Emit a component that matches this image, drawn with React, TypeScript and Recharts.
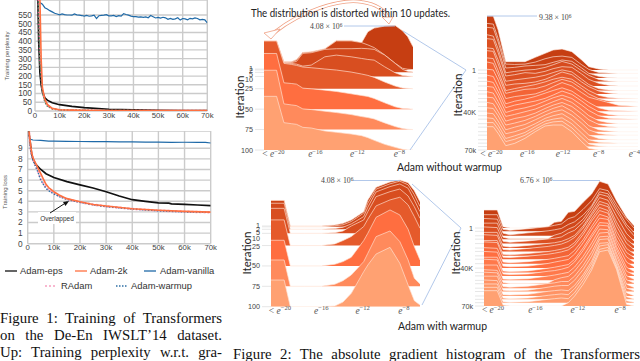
import React from "react";
import { AreaChart, Area, LineChart, Line, XAxis, YAxis, CartesianGrid, Legend } from "recharts";

// ---------- Line charts (x in thousands of updates) ----------
const kTicks = [0, 10, 20, 30, 40, 50, 60, 70];
const perplexTicks = [0, 50, 100, 150, 200, 250, 300, 350, 400, 450, 500, 550];
const lossTicks = [0, 1, 2, 3, 4, 5, 6, 7, 8, 9];

const perpEpsX = [1, 1.5, 2, 2.5, 3, 4, 5, 7, 10, 15, 20, 30, 40, 50, 60, 70];
const perpEpsY = [760, 400, 220, 150, 112, 76, 62, 47, 36, 26, 19, 10, 6, 4, 3, 2];
const perp2kX = [1.5, 2, 2.5, 3, 4, 5, 7, 10, 15, 20, 30, 50, 70];
const perp2kY = [800, 640, 300, 135, 66, 38, 15, 7, 5, 4, 3, 2, 2];
const perpRadamX = [1, 1.5, 2, 3, 4, 5, 7, 10, 15, 20, 30, 50, 70];
const perpRadamY = [800, 560, 300, 110, 55, 30, 13, 6, 5, 4, 3, 2, 2];
const perpWarmX = [1, 1.4, 2, 3, 4, 5, 7, 10, 15, 20, 30, 50, 70];
const perpWarmY = [800, 600, 280, 105, 52, 28, 12, 6, 5, 4, 3, 2, 2];
const perpVanX = [2, 3, 4, 5, 6, 7, 8, 9, 10, 11, 12, 13, 14, 15, 16, 17, 18, 19, 20, 21, 22, 23, 24, 25, 26, 27, 28, 29, 30, 31, 32, 33, 34, 35, 36, 37, 38, 39, 40, 41, 42, 43, 44, 45, 46, 47, 48, 49, 50, 51, 52, 53, 54, 55, 56, 57, 58, 59, 60, 61, 62, 63, 64, 65, 66, 67, 68, 69, 70];
const perpVanY = [622, 612, 592, 585, 575, 568, 560, 556, 551, 556, 552, 550, 550, 549, 556, 551, 549, 547, 544, 548, 543, 545, 549, 530, 546, 548, 549, 552, 545, 545, 548, 541, 546, 544, 558, 553, 549, 544, 541, 541, 538, 539, 537, 539, 534, 547, 540, 533, 536, 532, 537, 534, 525, 531, 525, 528, 534, 521, 530, 528, 523, 531, 528, 533, 530, 522, 525, 522, 505];

const lossEpsX = [0.4, 1, 1.5, 2, 3, 5, 7, 10, 15, 20, 25, 30, 35, 40, 45, 50, 54, 55, 60, 65, 70];
const lossEpsY = [10.6, 9.5, 8.5, 8, 7.5, 7, 6.6, 6.25, 5.85, 5.55, 5.25, 4.9, 4.5, 4.15, 4, 3.85, 3.82, 3.75, 3.7, 3.65, 3.6];
const loss2kX = [0.5, 1, 1.5, 2, 3, 4, 5, 6, 7, 8, 10, 12, 15, 20, 25, 30, 40, 50, 60, 70];
const loss2kY = [10.6, 9.5, 8.6, 8.1, 7.6, 7.1, 6.6, 6.1, 5.6, 5.3, 4.9, 4.6, 4.25, 3.95, 3.7, 3.55, 3.3, 3.15, 3.05, 2.98];
const lossRadamX = [0.5, 1, 1.5, 2, 3, 4, 5, 6, 7, 8, 10, 12, 15, 20, 25, 30, 40, 50, 60, 70];
const lossRadamY = [10.5, 9.2, 8.4, 8, 7.4, 6.8, 6.1, 5.7, 5.3, 5.1, 4.75, 4.5, 4.2, 3.92, 3.68, 3.52, 3.28, 3.12, 3.02, 2.96];
const lossWarmX = [0.5, 1, 1.5, 2, 3, 4, 5, 6, 7, 8, 10, 12, 15, 20, 25, 30, 40, 50, 60, 70];
const lossWarmY = [10.5, 9.1, 8.3, 7.9, 7.3, 6.7, 6, 5.6, 5.2, 5, 4.7, 4.45, 4.18, 3.9, 3.67, 3.5, 3.27, 3.1, 3, 2.95];
const lossVanX = [1, 2, 5, 8, 10, 15, 20, 25, 30, 35, 40, 45, 50, 55, 60, 65, 68, 70];
const lossVanY = [9.85, 9.78, 9.74, 9.68, 9.67, 9.65, 9.64, 9.63, 9.62, 9.6, 9.6, 9.58, 9.58, 9.56, 9.57, 9.56, 9.55, 9.5];

const nameEps = "Adam-eps";
const name2k = "Adam-2k";
const nameVan = "Adam-vanilla";
const nameRadam = "RAdam";
const nameWarm = "Adam-warmup";

// ---------- Ridge panels: exponent bins, row iterations, histogram heights ----------
const p1Bins = [-20.9, -19.7, -19, -18.3, -17.8, -17.2, -16.4, -15.1, -14, -12.6, -11.6, -11, -10.4, -9.4, -8.4, -7.7, -7.2, -6.7];
const p1Iters = [1, 2, 5, 10, 25, 50, 75, 100];
const p1Rows = [
  [84, 84, 22, 22, 29, 50, 52, 61, 86, 86, 79, 112, 123, 129, 131, 115, 97, 67],
  [87, 87, 24, 23, 30, 52, 54, 63, 87, 87, 82, 75, 67, 45, 20, 5, 2, 1],
  [94, 94, 30, 29, 33, 57, 59, 69, 71, 71, 72, 71, 69, 52, 27, 9, 3, 1],
  [106, 106, 41, 39, 37, 31, 34, 59, 64, 59, 54, 51, 49, 29, 11, 3, 1, 0],
  [143, 143, 76, 73, 70, 65, 63, 59, 56, 50, 44, 40, 34, 20, 8, 2, 1, 0],
  [167, 167, 79, 77, 75, 63, 61, 57, 53, 46, 41, 38, 32, 19, 7, 2, 1, 0],
  [178, 178, 77, 74, 72, 62, 60, 55, 51, 45, 39, 36, 32, 20, 9, 3, 1, 0],
  [161, 161, 82, 79, 77, 68, 66, 57, 53, 48, 43, 37, 29, 17, 8, 2, 0, 0],
];

const p2Bins = [-20.5, -19.8, -19.25, -18.4, -17.4, -16.25, -15.1, -14, -13.1, -12.1, -11, -9.9, -9.1, -8, -6.9, -5.8, -3.6];
const p2Iters = [1, 3000, 7000, 10000, 14000, 18000, 21000, 25000, 28000, 32000, 36000, 40000, 43000, 47000, 50000, 54000, 57000, 61000, 64000, 67000, 70000];
const p2Rows = [
  [162, 162, 120, 25, 25, 25, 38, 50, 60, 63, 55, 30, 10, 3, 0, 0, 0],
  [150, 148, 105, 28, 27, 28, 34, 44, 50, 52, 48, 26, 12, 3, 1, 0, 0],
  [152, 150, 108, 30, 32, 36, 38, 40, 47, 54, 50, 30, 14, 5, 1, 0, 0],
  [140, 136, 98, 26, 30, 34, 36, 42, 50, 60, 52, 32, 18, 6, 1, 0, 0],
  [142, 140, 100, 30, 34, 40, 38, 44, 52, 58, 56, 36, 20, 8, 2, 0, 0],
  [128, 126, 92, 28, 32, 36, 40, 46, 54, 62, 56, 34, 18, 6, 2, 0, 0],
  [130, 128, 90, 26, 30, 32, 36, 44, 54, 66, 58, 36, 22, 9, 3, 0, 0],
  [122, 120, 84, 24, 30, 36, 42, 50, 58, 64, 58, 38, 24, 10, 3, 1, 0],
  [120, 116, 82, 26, 32, 38, 40, 48, 58, 68, 60, 40, 24, 10, 3, 1, 0],
  [112, 110, 80, 24, 30, 34, 38, 48, 60, 72, 62, 42, 28, 20, 12, 4, 0],
  [108, 104, 74, 22, 30, 36, 44, 54, 62, 70, 60, 40, 26, 10, 3, 1, 0],
  [104, 100, 72, 24, 32, 38, 44, 52, 62, 74, 64, 44, 28, 12, 4, 1, 0],
  [98, 96, 70, 20, 28, 34, 42, 54, 64, 72, 62, 42, 26, 10, 3, 1, 0],
  [96, 92, 66, 22, 28, 36, 44, 56, 66, 76, 64, 42, 24, 9, 3, 0, 0],
  [90, 88, 64, 18, 26, 32, 42, 56, 66, 74, 62, 40, 22, 8, 2, 0, 0],
  [88, 84, 60, 20, 26, 34, 46, 60, 70, 78, 62, 38, 18, 6, 2, 0, 0],
  [82, 80, 58, 16, 24, 32, 46, 60, 70, 76, 60, 36, 16, 5, 1, 0, 0],
  [80, 78, 56, 18, 24, 34, 48, 64, 72, 78, 60, 34, 14, 4, 1, 0, 0],
  [76, 74, 54, 14, 22, 32, 50, 66, 72, 76, 58, 30, 10, 3, 1, 0, 0],
  [72, 72, 52, 15, 22, 34, 52, 68, 74, 76, 56, 28, 8, 2, 0, 0, 0],
  [70, 70, 50, 13, 20, 35, 55, 72, 75, 75, 55, 25, 5, 0, 0, 0, 0],
];

const p3Bins = [-20.87, -19.6, -19, -17.6, -16, -14.7, -13.9, -13.1, -11.9, -11.5, -10.7, -9.35, -8.4, -7.6, -7, -6.45];
const p3Iters = [1, 2, 5, 10, 25, 50, 75, 100];
const p3Rows = [
  [76, 76, 0, 0, 0, 3, 8, 18, 43, 78, 116, 132, 138, 130, 106, 73],
  [79, 79, 0, 0, 0, 3, 6, 16, 41, 71, 113, 129, 137, 126, 96, 61],
  [78, 78, 0, 0, 0, 2, 6, 16, 38, 66, 112, 128, 136, 123, 88, 53],
  [75, 75, 0, 0, 0, 2, 7, 22, 40, 65, 110, 125, 133, 112, 80, 45],
  [77, 77, 0, 0, 0, 5, 15, 27, 57, 79, 119, 137, 145, 122, 87, 52],
  [77, 77, 0, 0, 0, 5, 13, 26, 76, 98, 146, 168, 153, 110, 58, 18],
  [79, 79, 0, 0, 0, 6, 17, 34, 74, 99, 149, 166, 134, 79, 24, 7],
  [80, 80, 0, 0, 0, 2, 14, 40, 105, 125, 158, 178, 130, 65, 18, 5],
];

const p4Bins = [-20.85, -19.6, -19.05, -18.4, -16.7, -14.8, -14.2, -13.55, -12.9, -12.3, -11.5, -10.7, -9.95, -9.15, -8.35, -7.4, -6.7];
const p4Iters = [1, 3000, 7000, 10000, 14000, 18000, 21000, 25000, 28000, 32000, 36000, 40000, 43000, 47000, 50000, 54000, 57000, 61000, 64000, 67000, 70000];
const p4Rows = [
  [54, 54, 4, 0, 0, 4, 17, 20, 47, 50, 77, 102, 140, 132, 82, 32, 7],
  [50, 50, 6, 3, 8, 14, 18, 22, 38, 44, 66, 92, 128, 122, 80, 36, 10],
  [52, 50, 8, 3, 9, 15, 18, 22, 34, 42, 62, 90, 132, 126, 84, 34, 10],
  [48, 48, 6, 1, 1, 2, 12, 18, 30, 38, 60, 96, 135, 128, 84, 36, 10],
  [50, 48, 7, 4, 8, 14, 16, 20, 32, 40, 64, 100, 138, 130, 82, 30, 8],
  [47, 47, 6, 3, 8, 14, 16, 20, 28, 38, 66, 104, 140, 132, 78, 26, 8],
  [50, 48, 6, 4, 9, 15, 18, 22, 30, 42, 70, 108, 142, 134, 76, 24, 6],
  [46, 46, 5, 3, 7, 13, 16, 20, 26, 40, 72, 112, 145, 136, 74, 22, 6],
  [52, 50, 6, 5, 9, 15, 18, 22, 28, 42, 74, 114, 146, 138, 72, 20, 5],
  [48, 46, 5, 3, 6, 13, 16, 20, 24, 40, 72, 112, 148, 140, 72, 20, 5],
  [50, 48, 6, 4, 6, 14, 18, 22, 26, 42, 76, 116, 150, 146, 76, 18, 4],
  [46, 46, 5, 3, 5, 13, 16, 20, 24, 40, 74, 114, 150, 148, 78, 16, 4],
  [50, 48, 6, 4, 6, 14, 16, 20, 26, 42, 76, 116, 152, 150, 80, 14, 3],
  [46, 46, 4, 3, 5, 13, 16, 20, 24, 40, 72, 112, 154, 152, 82, 14, 3],
  [42, 40, 4, 1, 1, 2, 12, 18, 22, 38, 70, 110, 152, 154, 84, 12, 2],
  [48, 46, 5, 3, 6, 14, 16, 20, 20, 36, 68, 108, 154, 156, 86, 12, 2],
  [46, 46, 4, 2, 4, 13, 16, 18, 18, 34, 66, 106, 156, 158, 90, 10, 2],
  [48, 46, 4, 3, 5, 14, 16, 18, 16, 32, 64, 104, 158, 160, 94, 10, 1],
  [46, 46, 4, 2, 4, 12, 14, 16, 14, 32, 66, 106, 160, 164, 100, 8, 1],
  [46, 46, 3, 1, 3, 10, 12, 14, 12, 30, 66, 106, 160, 166, 104, 6, 1],
  [46, 46, 3, 0, 0, 0, 0, 0, 10, 30, 65, 108, 163, 168, 110, 5, 0],
];

const sparseColors = ["#C63E12", "#CC4316", "#D2481B", "#D84E20", "#E55A2B", "#FF6E40", "#FF8A5C", "#FFA172"];
const colorStops = [[198, 62, 18], [224, 84, 38], [255, 110, 64], [255, 138, 92], [255, 161, 114]];
function denseColor(i: number, n: number) {
  const t = (i / (n - 1)) * (colorStops.length - 1);
  const a = Math.min(Math.floor(t), colorStops.length - 2);
  const f = t - a;
  const c = colorStops[a].map((v, k) => Math.round(v + (colorStops[a + 1][k] - v) * f));
  return `rgb(${c[0]},${c[1]},${c[2]})`;
}

const SANS = "'Liberation Sans', Arial, sans-serif";
const SERIF = "'Liberation Serif', serif";
const CARLITO = "Lato, 'Open Sans', sans-serif";

function pairs(xs: number[], ys: number[]) {
  return xs.map((x, i) => ({ x, y: ys[i] }));
}

const fmtK = (v: number) => (v === 0 ? "0" : `${v}k`);

const legendPos: any = {
  [nameEps]: { x: 5, y: 26, tx: 20 },
  [name2k]: { x: 75, y: 26, tx: 90 },
  [nameVan]: { x: 144, y: 26, tx: 160 },
  [nameRadam]: { x: 45, y: 41, tx: 61 },
  [nameWarm]: { x: 116, y: 41, tx: 131 },
};

function LegendBody({ payload }: any) {
  return (
    <svg width={225} height={48} style={{ display: "block", overflow: "visible" }}>
      {(payload || []).map((p: any) => {
        const pos = legendPos[p.value];
        const dash = p.value === nameRadam ? "2 2" : p.value === nameWarm ? "1.5 1.5" : undefined;
        return (
          <g key={p.value}>
            <line x1={pos.x} x2={pos.x + 12} y1={pos.y - 13} y2={pos.y - 13} stroke={p.color} strokeWidth={1.3} strokeDasharray={dash} />
            <text x={pos.tx} y={pos.y - 10} fontFamily={SANS} fontSize={9.4} fill="#333">{p.value}</text>
          </g>
        );
      })}
    </svg>
  );
}

const xAxisTick = { fontFamily: SANS, fontSize: 7.8, fill: "#444" };
const yAxisTick = { fontFamily: SANS, fontSize: 8.3, fill: "#444" };

function LossOrPerp({ left, top, plotLeft, plotRight, plotH, yMax, ticks, series, legend, yMargin }: any) {
  const xH = 14;
  const legendH = legend ? 37 : 0;
  return (
    <div style={{ position: "absolute", left, top }}>
      <LineChart
        width={plotRight + 11}
        height={plotH + xH + legendH}
        margin={{ top: 0, right: 11, bottom: 0, left: 0 }}
      >
        <CartesianGrid stroke="#cbcbcb" strokeWidth={1.4} />
        <XAxis type="number" dataKey="x" domain={[0, 70]} ticks={kTicks} tickFormatter={fmtK} tick={xAxisTick} height={xH} axisLine={false} tickLine={false} tickMargin={1} interval={0} tickSize={0} allowDataOverflow />
        <YAxis type="number" dataKey="y" domain={[0, yMax]} ticks={ticks} tick={yAxisTick} width={plotLeft} axisLine={false} tickLine={false} tickSize={0} tickMargin={yMargin} interval={0} allowDataOverflow />
        {series.map((s: any) => (
          <Line key={s.name} data={s.data} dataKey="y" name={s.name} type="linear" stroke={s.color} strokeWidth={s.w} strokeDasharray={s.dash} dot={false} activeDot={false} isAnimationActive={false} legendType="line" />
        ))}
        {legend && <Legend content={<LegendBody />} height={legendH} verticalAlign="bottom" itemSorter={null} wrapperStyle={{ left: 0, bottom: 0, width: 225 }} />}
      </LineChart>
    </div>
  );
}

function ETick({ x, y, payload, first }: any) {
  const v = payload.value;
  return (
    <text x={x} y={y + 7} textAnchor="middle" fontFamily={SERIF} fontSize={9.5} fill="#555">
      {v === first ? "< " : ""}
      <tspan fontStyle="italic">e</tspan>
      <tspan dy={-3.5} fontSize={6.6}>{`\u2212${Math.abs(v)}`}</tspan>
    </text>
  );
}

function Ridge({ bins, iters, rows, colors, plotLeft, plotRight, plotTop, plotBottom, firstPx, x0, x1, xTicks, labels, stroke }: any) {
  const yW = 30;
  const xH = 18;
  const rightPad = 8;
  const iMin = iters[0];
  const iMax = iters[iters.length - 1];
  const pxPerIter = (plotBottom - firstPx) / (iMax - iMin);
  const yMin = iMin - (firstPx - plotTop) / pxPerIter;
  const unit = 1 / 3 / pxPerIter;
  const data = bins.map((x: number, b: number) => {
    const d: any = { x };
    rows.forEach((r: number[], i: number) => {
      d[`r${i}`] = iters[i] - r[b] * unit;
    });
    return d;
  });
  const YTick = ({ x, y, payload }: any) => {
    const l = labels[payload.value];
    return (
      <g>
        <line x1={x - 9} x2={x} y1={y} y2={y} stroke="#e6e6e6" strokeWidth={1} />
        {l && (
          <text x={x - 11} y={y + 2.5 + l.dy} textAnchor="end" fontFamily={SANS} fontSize={7.2} fill="#444">{l.text}</text>
        )}
      </g>
    );
  };
  return (
    <div style={{ position: "absolute", left: plotLeft - yW, top: plotTop }}>
      <AreaChart
        data={data}
        width={plotRight - plotLeft + yW + rightPad}
        height={plotBottom - plotTop + xH}
        margin={{ top: 0, right: rightPad, bottom: 0, left: 0 }}
      >
        <XAxis type="number" dataKey="x" domain={[x0, x1]} ticks={xTicks} height={xH} tick={<ETick first={-20} />} axisLine={false} tickLine={false} tickSize={0} tickMargin={0} interval={0} allowDataOverflow />
        <YAxis type="number" domain={[yMin, iMax]} reversed ticks={iters} tick={<YTick />} width={yW} axisLine={false} tickLine={false} tickSize={0} tickMargin={0} interval={0} allowDataOverflow />
        {rows.map((_: number[], i: number) => (
          <Area key={i} type="linear" dataKey={`r${i}`} baseValue={iters[i]} fill={colors(i)} fillOpacity={1} stroke={stroke} strokeWidth={0.9} dot={false} activeDot={false} isAnimationActive={false} />
        ))}
      </AreaChart>
    </div>
  );
}

function Exp6({ x, y, text }: any) {
  return (
    <text x={x} y={y} fontFamily={SERIF} fontSize={7.8} fill="#444">
      {text} {"\u00D7"} 10<tspan dy={-2.5} fontSize={5.4}>6</tspan>
    </text>
  );
}

function Caption({ x, y, w, text }: any) {
  return (
    <div style={{ position: "absolute", left: x, top: y, width: w, fontFamily: SERIF, fontSize: 14.8, lineHeight: "16px", color: "#111", textAlign: "justify", textAlignLast: "justify" }}>{text}</div>
  );
}

function Overlay() {
  const blue = "#a9c2e8";
  return (
    <svg width={640} height={361} style={{ position: "absolute", left: 0, top: 0, pointerEvents: "none" }}>
      <text transform="translate(8.5,56) rotate(-90)" textAnchor="middle" fontFamily={SANS} fontSize={6} fill="#555">Training perplexity</text>
      <text transform="translate(7,192) rotate(-90)" textAnchor="middle" fontFamily={SANS} fontSize={6} fill="#555">Training loss</text>
      <rect x={38} y={212} width={38} height={12} fill="#fff" />
      <text x={57} y={221} textAnchor="middle" fontFamily={SANS} fontSize={6.5} fill="#333">Overlapped</text>
      <line x1={50} y1={213} x2={67} y2={202} stroke="#111" strokeWidth={1} />
      <polygon points="69,201 63,202 65.5,206" fill="#111" />

      <g stroke={blue} strokeWidth={0.9} fill="none">
        <line x1={344} y1={26} x2={395} y2={26} />
        <line x1={403} y1={31} x2={466} y2={70} />
        <line x1={410} y1={150} x2={466} y2={70} />
        <line x1={487} y1={16} x2={537} y2={16} />
        <line x1={353} y1={180.5} x2={400} y2={180.5} />
        <line x1={412} y1={184} x2={461} y2={228} />
        <line x1={422} y1={305} x2={461} y2={228} />
        <line x1={553} y1={180.5} x2={600} y2={180.5} />
      </g>

      <g fill="none" strokeLinecap="round">
        <path d="M275,32 C300,12 340,-2 362,2 C375,4 384,8 388,18" stroke="#f0a083" strokeWidth={3.6} />
        <path d="M275,32 C300,12 340,-2 362,2 C375,4 384,8 388,18" stroke="#fff" strokeWidth={2.2} />
      </g>
      <polygon points="264,33 280,29 271,39" fill="#fff" stroke="#f0a083" strokeWidth={0.8} />
      <polygon points="382,17 393,17 389,24" fill="#fff" stroke="#f0a083" strokeWidth={0.8} />

      <text x={251} y={17} fontFamily={CARLITO} fontSize={10.8} fill="#222" textLength={199} lengthAdjust="spacingAndGlyphs">The distribution is distorted within 10 updates.</text>
      <Exp6 x={310} y={29} text="4.08" />
      <Exp6 x={539} y={20} text="9.38" />
      <Exp6 x={321} y={183} text="4.08" />
      <Exp6 x={520} y={183} text="6.76" />

      <text x={397} y={171} fontFamily={CARLITO} fontSize={11.2} fill="#222" textLength={105} lengthAdjust="spacingAndGlyphs">Adam without warmup</text>
      <text x={398} y={330} fontFamily={CARLITO} fontSize={11.2} fill="#222" textLength={89} lengthAdjust="spacingAndGlyphs">Adam with warmup</text>

      <text transform="translate(244,97) rotate(-90)" textAnchor="middle" fontFamily={CARLITO} fontSize={11.5} fill="#222">Iteration</text>
      <text transform="translate(462,95) rotate(-90)" textAnchor="middle" fontFamily={CARLITO} fontSize={11.5} fill="#222">Iteration</text>
      <text transform="translate(251,253) rotate(-90)" textAnchor="middle" fontFamily={CARLITO} fontSize={11.5} fill="#222">Iteration</text>
      <text transform="translate(460,253) rotate(-90)" textAnchor="middle" fontFamily={CARLITO} fontSize={11.5} fill="#222">Iteration</text>
    </svg>
  );
}

const perpSeries = [
  { name: nameEps, color: "#111111", w: 1.7, data: pairs(perpEpsX, perpEpsY) },
  { name: nameVan, color: "#1f6aa8", w: 1.2, data: pairs(perpVanX, perpVanY) },
  { name: nameRadam, color: "#f0609c", w: 1.6, dash: "2 2", data: pairs(perpRadamX, perpRadamY) },
  { name: nameWarm, color: "#3f8a5a", w: 1.4, dash: "1.5 1.5", data: pairs(perpWarmX, perpWarmY) },
  { name: name2k, color: "#ff7040", w: 1.6, data: pairs(perp2kX, perp2kY) },
];
const lossSeries = [
  { name: nameEps, color: "#111111", w: 1.7, data: pairs(lossEpsX, lossEpsY) },
  { name: nameVan, color: "#1f6aa8", w: 1.2, data: pairs(lossVanX, lossVanY) },
  { name: nameRadam, color: "#f6a0c0", w: 2.4, dash: "2 2", data: pairs(lossRadamX, lossRadamY) },
  { name: nameWarm, color: "#2f6fa5", w: 1.4, dash: "1.5 1.5", data: pairs(lossWarmX, lossWarmY) },
  { name: name2k, color: "#ff7040", w: 1.6, data: pairs(loss2kX, loss2kY) },
];

const sparseLabels1 = { 1: { text: "1", dy: -1 }, 2: { text: "2", dy: 1 }, 5: { text: "5", dy: 2 }, 10: { text: "10", dy: 3 }, 25: { text: "25", dy: 0 }, 50: { text: "50", dy: 0 }, 75: { text: "75", dy: 0 }, 100: { text: "100", dy: 0 } };
const sparseLabels3 = { 1: { text: "1", dy: 0 }, 2: { text: "2", dy: 3 }, 5: { text: "5", dy: 3.5 }, 10: { text: "10", dy: 5 }, 25: { text: "25", dy: 0.5 }, 50: { text: "50", dy: 0 }, 75: { text: "75", dy: 0 }, 100: { text: "100", dy: 0 } };

export default function App() {
  const sparse = (i: number) => sparseColors[i];
  const dense2 = (i: number) => denseColor(i, p2Rows.length);
  const dense4 = (i: number) => denseColor(i, p4Rows.length);
  return (
    <div style={{ position: "fixed", left: 0, top: 0, width: 640, height: 361, overflow: "hidden", background: "#fff" }}>
      <LossOrPerp left={0} top={0} plotLeft={35} plotRight={207.3} plotH={111} yMax={636} ticks={perplexTicks} series={perpSeries} yMargin={3} />
      <LossOrPerp left={0} top={131} plotLeft={27.7} plotRight={210.7} plotH={112.7} yMax={10.63} ticks={lossTicks} series={lossSeries} legend yMargin={5} />
      <Ridge bins={p1Bins} iters={p1Iters} rows={p1Rows} colors={sparse} plotLeft={264} plotRight={413} plotTop={20} plotBottom={150} firstPx={69.1} x0={-20.9} x1={-6.7} xTicks={[-20, -16, -12, -8]} stroke="rgba(255,225,210,0.75)" labels={sparseLabels1} />
      <Ridge bins={p2Bins} iters={p2Iters} rows={p2Rows} colors={dense2} plotLeft={487} plotRight={638} plotTop={12} plotBottom={150} firstPx={70} x0={-20.5} x1={-3.6} xTicks={[-20, -16, -12, -8, -4]} stroke="rgba(255,240,232,0.7)"
        labels={{ 1: { text: "1", dy: 0 }, 40000: { text: "40K", dy: -3 }, 70000: { text: "70k", dy: 0 } }} />
      <Ridge bins={p3Bins} iters={p3Iters} rows={p3Rows} colors={sparse} plotLeft={271} plotRight={420} plotTop={176} plotBottom={306.7} firstPx={226} x0={-20.87} x1={-6.45} xTicks={[-20, -16, -12, -8]} stroke="rgba(255,225,210,0.75)" labels={sparseLabels3} />
      <Ridge bins={p4Bins} iters={p4Iters} rows={p4Rows} colors={dense4} plotLeft={484} plotRight={634} plotTop={176} plotBottom={306} firstPx={228} x0={-20.85} x1={-6.7} xTicks={[-20, -16, -12, -8]} stroke="rgba(255,240,232,0.7)"
        labels={{ 1: { text: "1", dy: 0 }, 40000: { text: "40K", dy: -4 }, 70000: { text: "70k", dy: 0 } }} />
      <Overlay />
      <Caption x={0} y={310} w={222} text="Figure 1: Training of Transformers" />
      <Caption x={0} y={327} w={222} text="on the De-En IWSLT’14 dataset." />
      <Caption x={0} y={344} w={222} text="Up: Training perplexity w.r.t. gra-" />
      <Caption x={233} y={346} w={407} text="Figure 2: The absolute gradient histogram of the Transformers" />
    </div>
  );
}
